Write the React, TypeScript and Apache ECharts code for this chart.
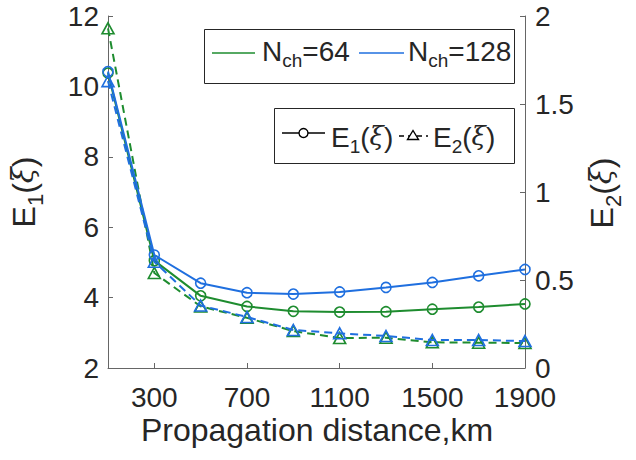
import React, { useEffect, useRef } from "react";
import * as echarts from "echarts";

const distances = [100, 300, 500, 700, 900, 1100, 1300, 1500, 1700, 1900];
const xTickValues = [300, 700, 1100, 1500, 1900];
const e1Nch64 = [10.38, 5.05, 4.05, 3.75, 3.61, 3.59, 3.6, 3.67, 3.73, 3.82];
const e1Nch128 = [10.42, 5.21, 4.41, 4.14, 4.1, 4.16, 4.29, 4.43, 4.62, 4.8];
const e2Nch64 = [1.93, 0.54, 0.35, 0.285, 0.21, 0.17, 0.172, 0.146, 0.144, 0.142];
const e2Nch128 = [1.63, 0.604, 0.355, 0.29, 0.216, 0.197, 0.182, 0.159, 0.159, 0.153];

const GREEN = "#1e8c2f";
const BLUE = "#1f6fdf";
const INK = "#262626";
const FONT = '"Liberation Sans", Arial, Helvetica, sans-serif';
const XI_FONT = '"DejaVu Serif", "Liberation Serif", serif';

function richFor(mainSize: number, subSize: number) {
  return {
    m: { fontSize: mainSize, lineHeight: mainSize, verticalAlign: "top", fontFamily: FONT, fill: INK, color: INK },
    x: {
      fontSize: Math.round(mainSize * 0.92),
      lineHeight: mainSize,
      verticalAlign: "top",
      fontFamily: XI_FONT,
      fontStyle: "italic",
      fill: INK,
      color: INK,
    },
    s: {
      fontSize: subSize,
      lineHeight: subSize,
      padding: [Math.round(mainSize * 0.5), 0, 0, 0],
      verticalAlign: "top",
      fontFamily: FONT,
      fill: INK,
      color: INK,
    },
  };
}

function subText(main: string, sub: string) {
  return `{m|${main}}{s|${sub}}`;
}

function eText(sub: string) {
  return `{m|E}{s|${sub}}{m|(}{x|ξ}{m|)}`;
}

function pairs(ys: number[]) {
  return distances.map((x, i) => [x, ys[i]]);
}

export default function App() {
  const ref = useRef<HTMLDivElement>(null);
  useEffect(() => {
    if (!ref.current) return;
    const chart = echarts.init(ref.current, undefined, { renderer: "svg" });
    const e1Series = (name: string, data: number[], color: string) => ({
      name,
      type: "line",
      yAxisIndex: 0,
      data: pairs(data),
      symbol: "circle",
      symbolSize: 10,
      lineStyle: { color, width: 2 },
      itemStyle: { color: "rgba(255,255,255,0)", borderColor: color, borderWidth: 1.6 },
      z: color === BLUE ? 4 : 3,
    });
    const e2Series = (name: string, data: number[], color: string) => ({
      name,
      type: "line",
      yAxisIndex: 1,
      data: pairs(data),
      symbol: "triangle",
      symbolSize: [12, 11],
      lineStyle: { color, width: 2, type: [8, 5] },
      itemStyle: { color: "rgba(255,255,255,0)", borderColor: color, borderWidth: 1.6 },
      z: color === BLUE ? 4 : 3,
    });
    const legendRich = richFor(28, 19);
    chart.setOption({
      animation: false,
      grid: { left: 108, right: 111, top: 16, bottom: 92, containLabel: false },
      xAxis: {
        type: "value",
        min: 100,
        max: 1900,
        axisLine: { show: true, onZero: false, lineStyle: { color: "#666", width: 1 } },
        axisTick: { show: true, inside: true, length: 5, customValues: xTickValues, lineStyle: { color: "#666" } },
        axisLabel: {
          customValues: xTickValues,
          formatter: (v: number) => String(v),
          fontSize: 28,
          fontFamily: FONT,
          color: INK,
          margin: 15,
        },
        splitLine: { show: false },
      },
      yAxis: [
        {
          type: "value",
          min: 2,
          max: 12,
          interval: 2,
          position: "left",
          axisLine: { show: true, lineStyle: { color: "#666", width: 1 } },
          axisTick: { show: true, inside: true, length: 5, lineStyle: { color: "#666" } },
          axisLabel: { fontSize: 28, fontFamily: FONT, color: INK, margin: 9 },
          splitLine: { show: false },
        },
        {
          type: "value",
          min: 0,
          max: 2,
          interval: 0.5,
          position: "right",
          axisLine: { show: true, lineStyle: { color: "#666", width: 1 } },
          axisTick: { show: true, inside: true, length: 5, lineStyle: { color: "#666" } },
          axisLabel: { fontSize: 28, fontFamily: FONT, color: INK, margin: 10 },
          splitLine: { show: false },
        },
      ],
      series: [
        e1Series("E1 Nch=64", e1Nch64, GREEN),
        e2Series("E2 Nch=64", e2Nch64, GREEN),
        e1Series("E1 Nch=128", e1Nch128, BLUE),
        e2Series("E2 Nch=128", e2Nch128, BLUE),
      ],
      graphic: [
        {
          type: "text",
          x: 317,
          y: 430,
          style: {
            text: "Propagation distance,km",
            fontSize: 32,
            fontFamily: FONT,
            fill: INK,
            align: "center",
            verticalAlign: "middle",
          },
        },
        {
          type: "text",
          x: 8,
          y: 192,
          rotation: Math.PI / 2,
          style: {
            text: eText("1"),
            rich: richFor(32, 22),
            align: "center",
            verticalAlign: "top",
            fill: INK,
          },
        },
        {
          type: "text",
          x: 586,
          y: 193,
          rotation: Math.PI / 2,
          style: {
            text: eText("2"),
            rich: richFor(32, 22),
            align: "center",
            verticalAlign: "top",
            fill: INK,
          },
        },
        // Legend 1
        {
          type: "rect",
          shape: { x: 204.5, y: 29.5, width: 310, height: 54 },
          style: { fill: "#fff", stroke: INK, lineWidth: 1 },
          z: 10,
        },
        {
          type: "line",
          shape: { x1: 212, y1: 53, x2: 255, y2: 53 },
          style: { stroke: GREEN, lineWidth: 1.6 },
          z: 11,
        },
        {
          type: "text",
          x: 262,
          y: 37,
          style: { text: subText("N", "ch") + "{m|=64}", rich: legendRich, align: "left", verticalAlign: "top" },
          z: 11,
        },
        {
          type: "line",
          shape: { x1: 359, y1: 53, x2: 404, y2: 53 },
          style: { stroke: BLUE, lineWidth: 1.6 },
          z: 11,
        },
        {
          type: "text",
          x: 408,
          y: 37,
          style: { text: subText("N", "ch") + "{m|=128}", rich: legendRich, align: "left", verticalAlign: "top" },
          z: 11,
        },
        // Legend 2
        {
          type: "rect",
          shape: { x: 274.5, y: 108.5, width: 240, height: 55 },
          style: { fill: "#fff", stroke: INK, lineWidth: 1 },
          z: 10,
        },
        {
          type: "line",
          shape: { x1: 282, y1: 133, x2: 325, y2: 133 },
          style: { stroke: "#000", lineWidth: 1.6 },
          z: 11,
        },
        {
          type: "circle",
          shape: { cx: 303.5, cy: 133, r: 4.5 },
          style: { fill: "#fff", stroke: "#000", lineWidth: 1.4 },
          z: 12,
        },
        {
          type: "text",
          x: 331,
          y: 123,
          style: { text: eText("1"), rich: legendRich, align: "left", verticalAlign: "top" },
          z: 11,
        },
        {
          type: "line",
          shape: { x1: 399, y1: 136, x2: 428, y2: 136 },
          style: { stroke: "#000", lineWidth: 1.6, lineDash: [5, 4] },
          z: 11,
        },
        {
          type: "polygon",
          shape: { points: [[413, 130.5], [407.5, 139.5], [418.5, 139.5]] },
          style: { fill: "#fff", stroke: "#000", lineWidth: 1.4 },
          z: 12,
        },
        {
          type: "text",
          x: 433,
          y: 123,
          style: { text: eText("2"), rich: legendRich, align: "left", verticalAlign: "top" },
          z: 11,
        },
      ],
    });
    return () => chart.dispose();
  }, []);
  return <div ref={ref} style={{ position: "fixed", left: 0, top: 0, width: 636, height: 460, background: "#fff" }} />;
}
